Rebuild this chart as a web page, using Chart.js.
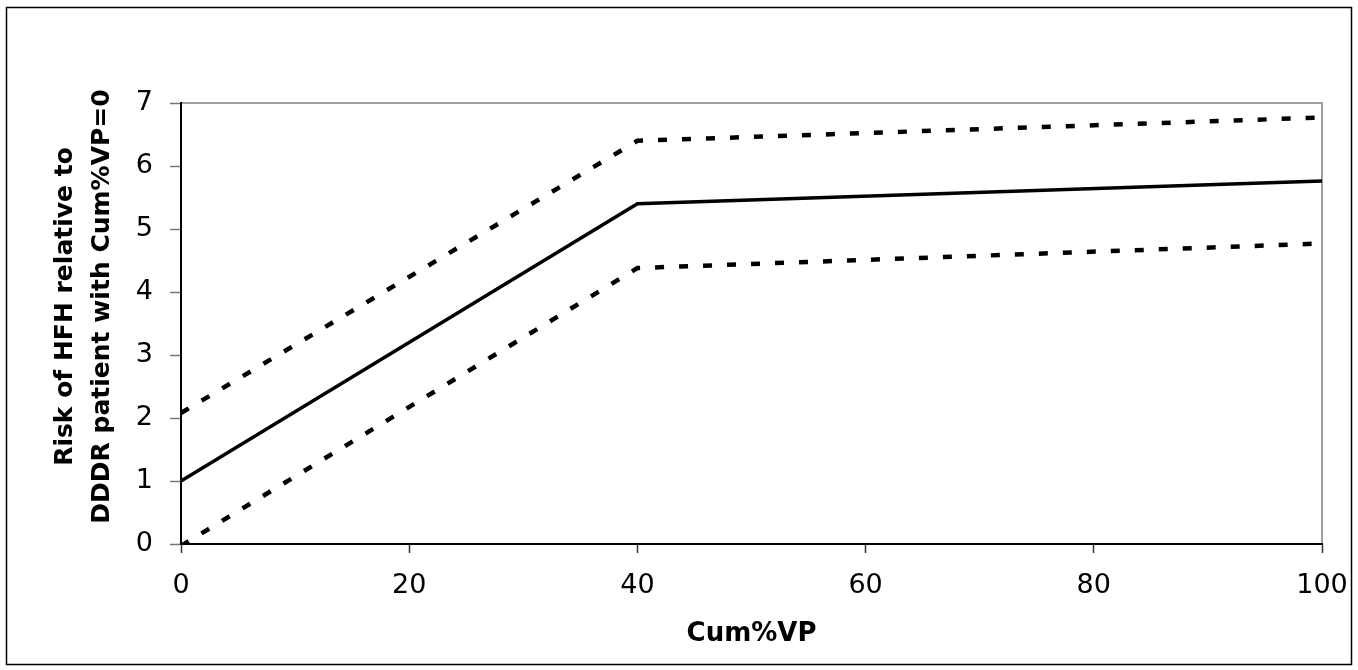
<!DOCTYPE html>
<html>
<head>
<meta charset="utf-8">
<script src="https://cdn.jsdelivr.net/npm/chart.js@4.4.1/dist/chart.umd.min.js"></script>
<style>
  html, body { margin: 0; padding: 0; background: #fff; }
  #wrap { position: absolute; left: 0; top: 0; width: 1358px; height: 670px; }
</style>
</head>
<body>
<div id="wrap"><canvas id="chart" width="1358" height="670"></canvas></div>
<script>
// cumulative % ventricular pacing and relative HFH risk (estimate + 95% band)
var cumVP = [0, 40, 100];
var riskEst = [1.0, 5.4, 5.76];
var riskUpper = [2.08, 6.4, 6.77];
var riskLower = [-0.03, 4.38, 4.77];

var xTicks = [0, 20, 40, 60, 80, 100];
var yTitle = ['Risk of HFH relative to', 'DDDR patient with Cum%VP=0'];
var xTitle = 'Cum%VP';

var FONT = 'DejaVu Sans, Verdana, sans-serif';

function pts(ys) {
	var out = [];
	for (var i = 0; i < cumVP.length; i++) {
		out.push({ x: cumVP[i], y: ys[i] });
	}
	return out;
}

// outer frame + grey plot box (left/bottom get the black axis lines on top)
var frame = {
	id: 'frame',
	beforeDraw: function (chart) {
		var ctx = chart.ctx;
		var a = chart.chartArea;
		ctx.save();
		ctx.fillStyle = '#fff';
		ctx.fillRect(0, 0, chart.width, chart.height);
		ctx.strokeStyle = '#000';
		ctx.lineWidth = 1.5;
		ctx.strokeRect(6.5, 7.5, 1345, 657);
		ctx.strokeStyle = '#a0a0a0';
		ctx.lineWidth = 2;
		ctx.strokeRect(a.left, a.top, a.right - a.left, a.bottom - a.top);
		ctx.restore();
	}
};

// two-line rotated y title, sat a little above the plot's middle
var yTitlePlugin = {
	id: 'yTitle',
	afterDraw: function (chart) {
		var ctx = chart.ctx;
		var a = chart.chartArea;
		var cy = (a.top + a.bottom) / 2 - 17;
		var xs = [65, 102];
		ctx.save();
		ctx.fillStyle = '#000';
		ctx.font = 'bold 25px ' + FONT;
		ctx.textAlign = 'center';
		ctx.textBaseline = 'middle';
		for (var i = 0; i < yTitle.length; i++) {
			ctx.save();
			ctx.translate(xs[i], cy);
			ctx.rotate(-Math.PI / 2);
			ctx.fillText(yTitle[i], 0, 0);
			ctx.restore();
		}
		ctx.restore();
	}
};

var dashed = {
	borderColor: '#000',
	borderWidth: 4.5,
	borderDash: [9, 15],
	borderCapStyle: 'butt',
	pointRadius: 0,
	tension: 0,
	fill: false
};

new Chart(document.getElementById('chart'), {
	type: 'line',
	data: {
		datasets: [
			Object.assign({ label: 'upper', data: pts(riskUpper) }, dashed),
			{
				label: 'estimate',
				data: pts(riskEst),
				borderColor: '#000',
				borderWidth: 3.5,
				pointRadius: 0,
				tension: 0,
				fill: false
			},
			Object.assign({ label: 'lower', data: pts(riskLower) }, dashed)
		]
	},
	plugins: [frame, yTitlePlugin],
	options: {
		responsive: false,
		animation: false,
		layout: { padding: { top: 103, right: 36, left: 0, bottom: 0 } },
		plugins: { legend: { display: false }, tooltip: { enabled: false } },
		scales: {
			x: {
				type: 'linear',
				min: 0,
				max: 100,
				afterBuildTicks: function (s) {
					s.ticks = xTicks.map(function (v) { return { value: v }; });
				},
				afterFit: function (s) {
					s.height = 126;
					// let the end labels hang past the plot edges
					s.paddingLeft = 0;
					s.paddingRight = 0;
				},
				border: { display: true, color: '#000', width: 2 },
				grid: { display: true, drawOnChartArea: false, drawTicks: true, tickLength: 9, color: '#333', tickWidth: 1.5 },
				ticks: { color: '#000', padding: 17, maxRotation: 0, font: { family: FONT, size: 27 } },
				title: { display: true, text: xTitle, color: '#000', padding: { top: 0, bottom: 20 }, font: { family: FONT, size: 26, weight: 'bold' } }
			},
			y: {
				min: 0,
				max: 7,
				afterBuildTicks: function (s) {
					var t = [];
					for (var v = 0; v <= 7; v++) t.push({ value: v });
					s.ticks = t;
				},
				afterFit: function (s) {
					s.width = 181;
					s.paddingTop = 0;
					s.paddingBottom = 0;
				},
				border: { display: true, color: '#000', width: 2 },
				grid: { display: true, drawOnChartArea: false, drawTicks: true, tickLength: 11, color: '#777', tickWidth: 1.5 },
				ticks: { color: '#000', padding: 17, font: { family: FONT, size: 27 } },
				title: { display: false }
			}
		}
	}
});
</script>
</body>
</html>
